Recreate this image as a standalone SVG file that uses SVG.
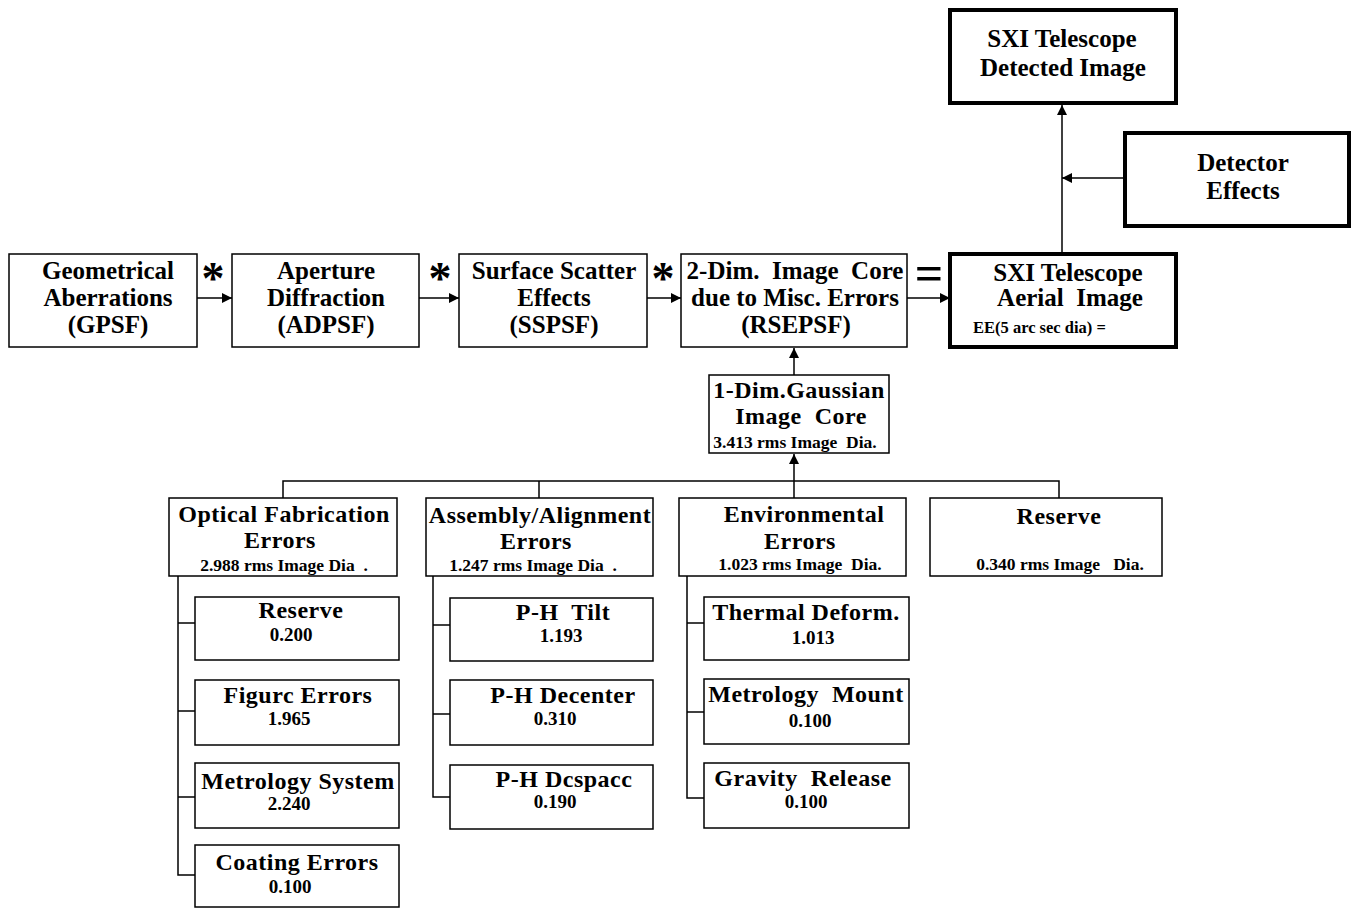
<svg xmlns="http://www.w3.org/2000/svg" width="1351" height="908" viewBox="0 0 1351 908">
<defs>
<marker id="ah" viewBox="0 0 10 10" refX="10" refY="5" markerWidth="10" markerHeight="10" markerUnits="userSpaceOnUse" orient="auto">
<path d="M0,0 L10,5 L0,10 z" fill="#000"/>
</marker>
</defs>
<style>
rect{fill:#fff;stroke:#000;stroke-width:1.5}
rect.thick{stroke-width:4}
text{font-family:"Liberation Serif","Times New Roman",serif;font-weight:bold;fill:#000;text-anchor:middle}
.m{font-size:25px}
.c{font-size:24px;letter-spacing:0.5px}
.s{font-size:17.5px}
.v{font-size:19px}
.op{font-size:46px}
line,polyline{stroke:#000;stroke-width:1.5;fill:none}
</style>
<rect width="1351" height="908" style="fill:#fff;stroke:none"/>

<g id="connectors">
<line x1="197" y1="298" x2="232" y2="298" marker-end="url(#ah)"/>
<line x1="419" y1="298" x2="459" y2="298" marker-end="url(#ah)"/>
<line x1="647" y1="298" x2="681" y2="298" marker-end="url(#ah)"/>
<line x1="907" y1="298" x2="950" y2="298" marker-end="url(#ah)"/>
<line x1="1062" y1="252" x2="1062" y2="105" marker-end="url(#ah)"/>
<line x1="1123" y1="178" x2="1062" y2="178" marker-end="url(#ah)"/>
<line x1="794" y1="375" x2="794" y2="348" marker-end="url(#ah)"/>
<line x1="794" y1="498" x2="794" y2="454" marker-end="url(#ah)"/>
<polyline points="283,498 283,481 1059,481 1059,498"/>
<line x1="539" y1="481" x2="539" y2="498"/>
<polyline points="178,576 178,875 195,875"/>
<line x1="178" y1="623" x2="195" y2="623"/>
<line x1="178" y1="711" x2="195" y2="711"/>
<line x1="178" y1="797" x2="195" y2="797"/>
<polyline points="433,576 433,797 450,797"/>
<line x1="433" y1="625" x2="450" y2="625"/>
<line x1="433" y1="714" x2="450" y2="714"/>
<polyline points="687,576 687,798 704,798"/>
<line x1="687" y1="623" x2="704" y2="623"/>
<line x1="687" y1="712" x2="704" y2="712"/>
</g>

<g id="ops">
<text class="op" x="213" y="294">*</text>
<text class="op" x="440" y="294">*</text>
<text class="op" x="663" y="294">*</text>
<text class="op" x="929" y="290" style="font-size:50px">=</text>
</g>

<g id="gpsf">
<rect x="9" y="254" width="188" height="93"/>
<text class="m" x="108" y="279">Geometrical</text>
<text class="m" x="108" y="306">Aberrations</text>
<text class="m" x="108" y="333">(GPSF)</text>
</g>
<g id="adpsf">
<rect x="232" y="254" width="187" height="93"/>
<text class="m" x="326" y="279">Aperture</text>
<text class="m" x="326" y="306">Diffraction</text>
<text class="m" x="326" y="333">(ADPSF)</text>
</g>
<g id="sspsf">
<rect x="459" y="254" width="188" height="93"/>
<text class="m" x="554" y="279">Surface Scatter</text>
<text class="m" x="554" y="306">Effects</text>
<text class="m" x="554" y="333">(SSPSF)</text>
</g>
<g id="rsepsf">
<rect x="681" y="254" width="226" height="93"/>
<text class="m" x="795" y="279" xml:space="preserve">2-Dim.  Image  Core</text>
<text class="m" x="795" y="306">due to Misc. Errors</text>
<text class="m" x="796" y="333">(RSEPSF)</text>
</g>
<g id="aerial">
<rect class="thick" x="950" y="254" width="226" height="93"/>
<text class="m" x="1068" y="281">SXI Telescope</text>
<text class="m" x="1070" y="306" xml:space="preserve">Aerial  Image</text>
<text x="973" y="333" style="text-anchor:start;font-size:16.5px">EE(5 arc sec dia) =</text>
</g>
<g id="detected">
<rect class="thick" x="950" y="10" width="226" height="93"/>
<text class="m" x="1062" y="47">SXI Telescope</text>
<text class="m" x="1063" y="76">Detected Image</text>
</g>
<g id="detector">
<rect class="thick" x="1125" y="133" width="224" height="93"/>
<text class="m" x="1243" y="171">Detector</text>
<text class="m" x="1243" y="199">Effects</text>
</g>
<g id="gaussian">
<rect x="709" y="375" width="180" height="78"/>
<text class="c" x="799" y="398">1-Dim.Gaussian</text>
<text class="c" x="801" y="424" xml:space="preserve">Image  Core</text>
<text class="s" x="795" y="448" xml:space="preserve">3.413 rms Image  Dia.</text>
</g>

<g id="optical">
<rect x="169" y="498" width="228" height="78"/>
<text class="c" x="284" y="522">Optical Fabrication</text>
<text class="c" x="280" y="548">Errors</text>
<text class="s" x="284" y="571" xml:space="preserve">2.988 rms Image Dia  .</text>
</g>
<g id="assembly">
<rect x="426" y="498" width="227" height="78"/>
<text class="c" x="540" y="523">Assembly/Alignment</text>
<text class="c" x="536" y="549">Errors</text>
<text class="s" x="533" y="571" xml:space="preserve">1.247 rms Image Dia  .</text>
</g>
<g id="environmental">
<rect x="679" y="498" width="227" height="78"/>
<text class="c" x="804" y="522">Environmental</text>
<text class="c" x="800" y="549">Errors</text>
<text class="s" x="800" y="570" xml:space="preserve">1.023 rms Image  Dia.</text>
</g>
<g id="reserve-top">
<rect x="930" y="498" width="232" height="78"/>
<text class="c" x="1059" y="524">Reserve</text>
<text class="s" x="1060" y="570" xml:space="preserve">0.340 rms Image   Dia.</text>
</g>

<g id="of-reserve">
<rect x="195" y="597" width="204" height="63"/>
<text class="c" x="301" y="618">Reserve</text>
<text class="v" x="291" y="641">0.200</text>
</g>
<g id="of-figure">
<rect x="195" y="680" width="204" height="65"/>
<text class="c" x="298" y="703">Figurc Errors</text>
<text class="v" x="289" y="725">1.965</text>
</g>
<g id="of-metrology">
<rect x="195" y="763" width="204" height="65"/>
<text class="c" x="298" y="789">Metrology System</text>
<text class="v" x="289" y="810">2.240</text>
</g>
<g id="of-coating">
<rect x="195" y="845" width="204" height="62"/>
<text class="c" x="297" y="870">Coating Errors</text>
<text class="v" x="290" y="893">0.100</text>
</g>

<g id="aa-tilt">
<rect x="450" y="598" width="203" height="63"/>
<text class="c" x="563" y="620" xml:space="preserve">P-H  Tilt</text>
<text class="v" x="561" y="642">1.193</text>
</g>
<g id="aa-decenter">
<rect x="450" y="680" width="203" height="65"/>
<text class="c" x="563" y="703">P-H Decenter</text>
<text class="v" x="555" y="725">0.310</text>
</g>
<g id="aa-despace">
<rect x="450" y="765" width="203" height="64"/>
<text class="c" x="564" y="787">P-H Dcspacc</text>
<text class="v" x="555" y="808">0.190</text>
</g>

<g id="env-thermal">
<rect x="704" y="597" width="205" height="63"/>
<text class="c" x="806" y="620">Thermal Deform.</text>
<text class="v" x="813" y="644">1.013</text>
</g>
<g id="env-metrology">
<rect x="704" y="679" width="205" height="65"/>
<text class="c" x="806" y="702" xml:space="preserve">Metrology  Mount</text>
<text class="v" x="810" y="727">0.100</text>
</g>
<g id="env-gravity">
<rect x="704" y="763" width="205" height="65"/>
<text class="c" x="803" y="786" xml:space="preserve">Gravity  Release</text>
<text class="v" x="806" y="808">0.100</text>
</g>
</svg>
